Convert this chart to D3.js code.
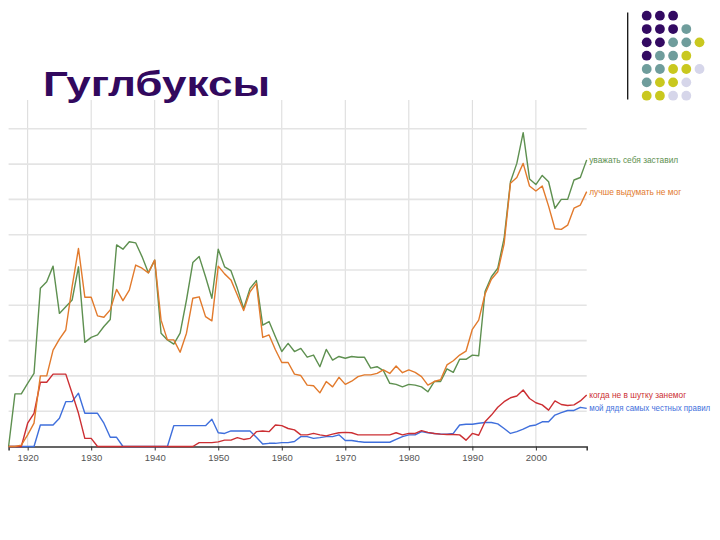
<!DOCTYPE html>
<html><head><meta charset="utf-8">
<script src="https://cdn.jsdelivr.net/npm/d3@7"></script>
<style>body{margin:0;background:#fff}svg{display:block}</style>
</head><body>
<script>
// ---- data ----
const years = d3.range(1917, 2009);
const seriesNames = ["уважать себя заставил","лучше выдумать не мог","когда не в шутку занемог","мой дядя самых честных правил"];
const greenVals = [0,1.49,1.49,1.79,2.07,4.48,4.67,5.11,3.77,3.96,4.15,5.09,2.95,3.09,3.16,3.40,3.60,5.71,5.59,5.80,5.77,5.38,4.92,
 5.28,3.21,3.02,2.90,3.21,4.15,5.21,5.38,4.81,4.20,5.59,5.09,4.98,4.48,3.91,4.48,4.70,3.44,3.54,3.11,2.69,2.92,2.69,2.78,
 2.53,2.59,2.26,2.75,2.45,2.55,2.50,2.55,2.53,2.53,2.22,2.26,2.15,1.79,1.76,1.69,1.76,1.74,1.69,1.55,1.84,1.84,2.2,
 2.10,2.47,2.47,2.59,2.57,4.39,4.81,5.05,5.90,7.50,8.02,8.89,7.58,7.42,7.68,7.50,6.75,7.00,7.00,7.55,7.62,8.12];
const orangeVals = [0,0,0.04,0.33,0.66,2.0,2.0,2.73,3.04,3.30,4.53,5.61,4.23,4.23,3.70,3.66,3.87,4.45,4.13,4.43,5.14,5.05,4.92,
 5.28,3.58,3.02,3.02,2.67,3.21,4.20,4.24,3.68,3.56,5.11,4.89,4.72,4.29,3.85,4.38,4.62,3.09,3.16,2.74,2.38,2.38,2.05,2.01,
 1.74,1.72,1.52,1.84,1.69,1.96,1.76,1.85,1.98,2.03,2.03,2.07,2.17,2.07,2.28,2.09,2.17,2.10,1.98,1.74,1.84,1.89,2.31,
 2.43,2.59,2.70,3.32,3.58,4.32,4.74,4.95,5.74,7.46,7.62,8.02,7.38,7.24,7.38,6.81,6.17,6.15,6.27,6.75,6.84,7.22];
const redVals = [0,0,0,0.66,0.94,1.82,1.82,2.05,2.05,2.05,1.51,0.94,0.23,0.23,0,0,0,0,0,0,0,0,0,0,0,0,0,0,0,0,
 0.11,0.11,0.11,0.13,0.18,0.18,0.25,0.2,0.23,0.42,0.44,0.42,0.61,0.59,0.51,0.47,0.33,0.33,0.37,0.33,0.30,0.35,0.39,0.40,
 0.39,0.33,0.33,0.33,0.33,0.33,0.33,0.39,0.33,0.37,0.37,0.45,0.40,0.37,0.35,0.34,0.34,0.33,0.18,0.37,0.32,0.70,0.89,
 1.11,1.27,1.38,1.43,1.60,1.36,1.24,1.18,1.03,1.29,1.19,1.16,1.18,1.29,1.46];
const blueVals = [0,0,0,0,0,0.61,0.61,0.61,0.80,1.27,1.27,1.51,0.94,0.94,0.94,0.66,0.26,0.26,0,0,0,0,0,0,0,0,
 0.59,0.59,0.59,0.59,0.59,0.59,0.77,0.39,0.37,0.44,0.44,0.44,0.44,0.26,0.07,0.09,0.09,0.11,0.11,0.14,0.28,0.28,0.23,
 0.25,0.28,0.28,0.33,0.17,0.17,0.14,0.12,0.12,0.12,0.12,0.12,0.2,0.28,0.33,0.33,0.42,0.39,0.37,0.35,0.35,0.37,0.61,
 0.63,0.63,0.66,0.68,0.68,0.64,0.51,0.37,0.42,0.49,0.58,0.61,0.70,0.70,0.89,0.96,1.02,1.02,1.11,1.08];
const tickYears = [1920,1930,1940,1950,1960,1970,1980,1990,2000];
const yGrid = [1,2,3,4,5,6,7,8,9];
const titleText = "Гуглбуксы";
// decorative dot grid (rows of colour keys)
const dotRows = [["P","P","P"],["P","P","P","T"],["P","P","T","T","Y"],["P","T","T","Y"],["T","T","Y","Y","L"],["T","Y","Y","L"],["Y","Y","L","L"]];

// ---- styles ----
const seriesColors = ["#5e9050","#e27a2c","#cc2f33","#3f6fdc"];
const labelWidths = [89, 92, 97, 121];
const dotColors = {P:"#330a62",T:"#6f9d9c",Y:"#c9c81f",L:"#d6d6ea"};

const W = 720, H = 540;
const svg = d3.select("body").append("svg").attr("width", W).attr("height", H);

const x = d3.scaleLinear().domain([1917, 2008]).range([8.6, 586.7]);
const y = d3.scaleLinear().domain([0, 9]).range([446.5, 128.8]);

// vertical gridlines
svg.append("g").selectAll("line").data(tickYears).join("line")
  .attr("x1", d => x(d)).attr("x2", d => x(d))
  .attr("y1", 100).attr("y2", y(0))
  .attr("stroke", "#dadada").attr("stroke-width", 1);

// horizontal gridlines
svg.append("g").selectAll("line").data(yGrid).join("line")
  .attr("x1", x(1917)).attr("x2", x(2008))
  .attr("y1", d => y(d)).attr("y2", d => y(d))
  .attr("stroke", "#e4e4e4").attr("stroke-width", 1.6);

// x axis
const xAxis = d3.axisBottom(x).tickValues(tickYears).tickFormat(d3.format("d")).tickSize(4).tickPadding(4);
const gx = svg.append("g").attr("transform", `translate(0,${y(0)})`).call(xAxis);
gx.select(".domain").attr("stroke", "#333").attr("stroke-width", 1.5);
gx.selectAll(".tick line").attr("stroke", "#333");
gx.selectAll(".tick text").attr("fill", "#555").attr("font-family", "Liberation Sans, Arial, sans-serif").attr("font-size", 9.5);

// lines
const allVals = [greenVals, orangeVals, redVals, blueVals];
const line = d3.line().x((d, i) => x(years[i])).y(d => y(d));
const drawOrder = [3, 2, 0, 1];
drawOrder.forEach(k => {
  svg.append("path").datum(allVals[k]).attr("d", line)
    .attr("fill", "none").attr("stroke", seriesColors[k]).attr("stroke-width", 1.4)
    .attr("stroke-linejoin", "round");
});

// end labels
allVals.forEach((vals, k) => {
  svg.append("text").attr("x", x(2008) + 2.5).attr("y", y(vals[vals.length - 1]))
    .attr("dy", "0.35em")
    .attr("fill", seriesColors[k])
    .attr("font-family", "Liberation Sans, Arial, sans-serif").attr("font-size", 8.2)
    .attr("textLength", labelWidths[k]).attr("lengthAdjust", "spacingAndGlyphs")
    .text(seriesNames[k]);
});

// title
svg.append("text").attr("x", 43).attr("y", 96)
  .attr("font-family", "Liberation Sans, Arial, sans-serif").attr("font-weight", "bold")
  .attr("font-size", 35).attr("fill", "#32095e")
  .attr("textLength", 227).attr("lengthAdjust", "spacingAndGlyphs")
  .text(titleText);

// decorative divider and dots
svg.append("line").attr("x1", 627.7).attr("x2", 627.7).attr("y1", 12.5).attr("y2", 99.5)
  .attr("stroke", "#111").attr("stroke-width", 1.3);
const dots = [];
dotRows.forEach((row, r) => row.forEach((c, j) => dots.push({r, j, c})));
svg.append("g").selectAll("circle").data(dots).join("circle")
  .attr("cx", d => 646.7 + d.j * 13.2).attr("cy", d => 15.7 + d.r * 13.33)
  .attr("r", 4.9).attr("fill", d => dotColors[d.c]);
</script>
</body></html>
